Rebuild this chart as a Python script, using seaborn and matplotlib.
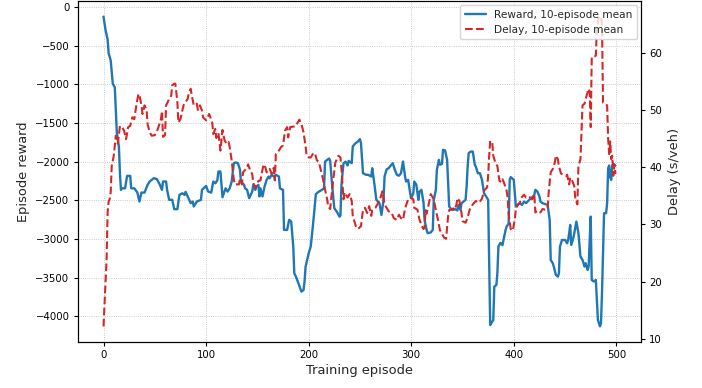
import matplotlib
matplotlib.use("Agg")
import matplotlib.pyplot as plt
import seaborn as sns
import pandas as pd

# Episode reward, 10-episode running mean
reward_ep = [0, 2, 4, 5, 7, 9, 11, 12, 13, 15, 16, 17, 18, 21, 23, 26, 27, 30, 33, 35,
             37, 40, 43, 45, 49, 52, 55, 57, 58, 61, 62, 64, 67, 69, 72, 74, 77, 79, 80, 82,
             85, 87, 88, 91, 95, 96, 100, 102, 105, 107, 109, 111, 112, 114, 115, 116, 119, 121, 123, 125,
             127, 129, 131, 133, 134, 137, 138, 140, 142, 145, 146, 148, 149, 151, 152, 153, 155, 157, 159, 161,
             162, 164, 166, 168, 171, 172, 175, 176, 179, 181, 183, 185, 186, 188, 191, 193, 195, 196, 197, 200,
             202, 203, 205, 207, 210, 213, 215, 216, 218, 220, 221, 222, 223, 225, 228, 230, 231, 232, 233, 234,
             236, 238, 239, 242, 243, 245, 248, 250, 251, 253, 256, 258, 261, 262, 264, 266, 269, 271, 273, 274,
             276, 278, 280, 282, 284, 286, 288, 290, 292, 294, 295, 297, 299, 300, 302, 303, 305, 307, 308, 310,
             311, 312, 313, 315, 316, 319, 321, 322, 324, 325, 327, 328, 330, 331, 333, 335, 337, 339, 341, 343,
             345, 346, 348, 349, 351, 353, 354, 355, 356, 358, 360, 362, 363, 365, 367, 369, 371, 373, 375, 376,
             377, 378, 380, 381, 383, 384, 385, 387, 389, 390, 392, 393, 395, 396, 397, 400, 401, 402, 404, 406,
             408, 410, 412, 415, 417, 418, 420, 421, 423, 425, 426, 428, 433, 435, 436, 438, 439, 441, 443, 444,
             445, 447, 450, 452, 453, 454, 455, 456, 458, 459, 461, 463, 465, 467, 469, 470, 472, 473, 474, 475,
             476, 478, 480, 481, 482, 484, 485, 486, 487, 488, 490, 491, 492, 493, 494, 495, 496, 497, 499]
reward_val = [-125, -300, -420, -600, -690, -990, -1040, -1330, -1630, -1805, -2150, -2365, -2345, -2345, -2184, -2184, -2345, -2345, -2400, -2516,
              -2400, -2400, -2300, -2257, -2214, -2225, -2300, -2365, -2257, -2257, -2365, -2494, -2494, -2615, -2615, -2430, -2409, -2430, -2390, -2450,
              -2537, -2516, -2580, -2516, -2494, -2365, -2314, -2387, -2400, -2257, -2280, -2240, -2128, -2128, -2300, -2460, -2345, -2387, -2345, -2257,
              -2020, -2010, -2020, -2100, -2257, -2300, -2345, -2365, -2473, -2387, -2300, -2365, -2322, -2300, -2450, -2345, -2450, -2322, -2236, -2193,
              -2214, -2170, -2193, -2170, -2193, -2345, -2365, -2883, -2883, -2753, -2775, -3099, -3443, -3500, -3608, -3681, -3660, -3550, -3358, -3186,
              -3099, -2978, -2711, -2420, -2387, -2365, -2345, -2000, -1977, -1960, -1990, -2150, -2322, -2602, -2660, -2711, -2700, -2300, -2150, -2020,
              -2000, -2050, -1990, -2020, -1805, -1770, -1740, -1709, -1760, -2150, -2170, -2170, -2193, -2085, -2280, -2494, -2537, -2689, -2494, -2193,
              -2100, -2085, -2050, -2020, -2106, -2170, -2182, -2150, -1998, -2193, -2257, -2236, -2409, -2473, -2409, -2257, -2300, -2494, -2390, -2365,
              -2450, -2530, -2753, -2883, -2925, -2916, -2883, -2494, -2365, -2106, -1977, -2040, -2030, -1847, -1855, -1977, -2580, -2615, -2624, -2615,
              -2632, -2560, -2624, -2540, -2516, -2494, -2322, -2065, -1890, -1870, -1870, -2040, -2065, -2150, -2150, -2236, -2409, -2450, -2494, -3300,
              -4113, -4090, -4050, -3617, -3595, -3440, -3099, -3050, -3080, -3010, -2883, -2840, -2800, -2236, -2200, -2236, -2409, -2580, -2560, -2537,
              -2560, -2516, -2537, -2494, -2473, -2460, -2430, -2365, -2387, -2450, -2516, -2537, -2560, -2753, -3271, -3314, -3357, -3465, -3487, -3443,
              -3099, -3013, -3013, -3056, -3013, -2925, -2818, -3077, -2990, -2925, -2775, -2925, -3228, -3271, -3357, -3314, -3400, -3357, -3013, -2711,
              -3530, -3550, -3530, -3790, -4048, -4130, -4090, -3702, -3185, -2667, -2667, -2537, -2085, -2050, -2200, -2236, -2050, -2030, -2050]

# Average delay per vehicle, 10-episode running mean
delay_ep = [0, 3, 4, 5, 6, 7, 8, 10, 11, 12, 14, 16, 18, 20, 22, 24, 26, 28, 30, 32,
            34, 35, 37, 38, 40, 42, 43, 45, 47, 50, 53, 56, 57, 58, 60, 61, 64, 66, 67, 69,
            70, 72, 73, 75, 78, 80, 82, 83, 85, 86, 88, 91, 92, 94, 96, 97, 100, 103, 106, 107,
            109, 110, 112, 114, 116, 118, 120, 122, 123, 125, 127, 128, 132, 133, 135, 136, 139, 141, 143, 145,
            146, 148, 149, 151, 153, 156, 158, 159, 161, 162, 164, 166, 167, 168, 171, 173, 175, 177, 179, 180,
            182, 185, 187, 189, 191, 193, 195, 197, 198, 200, 202, 204, 206, 208, 210, 212, 214, 216, 218, 219,
            221, 222, 224, 226, 229, 231, 232, 234, 235, 238, 240, 242, 243, 246, 248, 251, 253, 255, 257, 259,
            261, 262, 265, 267, 270, 272, 274, 276, 278, 281, 283, 286, 288, 290, 292, 294, 297, 299, 302, 303,
            306, 308, 310, 312, 313, 314, 315, 317, 319, 322, 324, 326, 328, 330, 332, 334, 336, 337, 339, 341,
            342, 344, 345, 347, 349, 350, 353, 355, 357, 358, 360, 363, 366, 369, 371, 374, 375, 376, 377, 379,
            380, 382, 384, 386, 388, 389, 391, 393, 394, 395, 397, 399, 401, 402, 404, 406, 407, 410, 412, 414,
            416, 418, 420, 421, 423, 426, 428, 430, 433, 434, 436, 438, 440, 441, 443, 444, 446, 448, 451, 452,
            454, 455, 457, 459, 460, 462, 463, 465, 466, 467, 469, 471, 473, 474, 475, 476, 478, 480, 481, 483,
            485, 486, 487, 489, 491, 492, 493, 494, 495, 496, 497, 498, 499]
delay_val = [12.2, 24.0, 32.1, 34.0, 34.4, 35.6, 40.2, 42.0, 43.7, 45.5, 44.1, 47.2, 47.0, 46.4, 44.9, 47.0, 47.2, 48.7, 48.4, 50.8,
             52.8, 52.6, 50.8, 49.3, 50.8, 50.0, 47.5, 46.1, 45.5, 45.6, 46.7, 48.4, 49.8, 45.3, 45.6, 50.8, 51.9, 52.5, 54.3, 54.6,
             54.6, 51.4, 47.8, 48.4, 50.8, 51.4, 51.9, 52.8, 53.7, 52.6, 50.8, 51.1, 50.0, 50.8, 49.9, 48.7, 48.2, 49.3, 47.8, 45.8,
             46.7, 45.1, 46.0, 42.9, 46.5, 44.7, 44.1, 44.4, 43.5, 41.1, 37.9, 37.0, 37.0, 37.9, 37.0, 39.1, 39.7, 40.5, 39.4, 38.8,
             37.3, 36.4, 36.7, 37.6, 37.7, 40.5, 39.9, 39.1, 39.4, 39.7, 38.8, 39.9, 37.7, 42.3, 42.9, 43.5, 43.8, 46.4, 47.0, 45.2,
             47.0, 47.1, 47.1, 47.7, 48.3, 47.5, 46.1, 43.7, 42.0, 41.7, 41.7, 42.3, 42.5, 41.2, 40.9, 39.4, 37.9, 36.1, 34.4, 33.2,
             32.7, 34.4, 37.9, 40.8, 42.0, 41.7, 39.7, 34.4, 35.6, 34.7, 35.3, 34.1, 31.5, 29.7, 29.2, 29.7, 32.6, 32.9, 32.0, 33.2,
             31.5, 32.5, 32.9, 33.5, 34.7, 35.8, 33.5, 32.9, 32.3, 32.0, 31.1, 30.8, 31.7, 31.1, 30.8, 32.8, 34.4, 34.7, 34.4, 32.9,
             32.6, 30.9, 29.8, 29.2, 29.5, 32.5, 31.9, 33.5, 35.3, 34.4, 32.5, 30.9, 29.0, 28.4, 27.7, 27.5, 31.5, 32.5, 32.6, 32.8,
             32.5, 33.4, 34.6, 34.1, 32.0, 30.6, 30.3, 31.2, 32.6, 32.9, 33.5, 34.1, 33.8, 34.5, 35.9, 36.5, 38.5, 42.0, 44.6, 44.3,
             42.0, 40.8, 40.2, 37.6, 37.4, 37.9, 37.0, 35.9, 34.7, 31.8, 29.2, 28.9, 30.9, 32.6, 33.5, 33.8, 34.6, 35.2, 34.7, 34.9,
             34.7, 34.4, 35.3, 32.1, 32.4, 32.1, 32.7, 32.6, 32.7, 35.6, 39.1, 39.7, 40.8, 42.0, 41.4, 40.2, 38.9, 38.7, 38.5, 38.7,
             37.0, 38.2, 37.6, 36.7, 34.4, 33.5, 40.2, 41.4, 46.1, 50.8, 51.1, 52.5, 53.7, 53.1, 47.0, 59.2, 59.2, 59.5, 64.2, 66.3,
             66.3, 64.8, 51.3, 51.1, 50.8, 44.9, 42.3, 44.5, 41.4, 42.0, 38.5, 40.5, 38.8]

reward_df = pd.DataFrame({"episode": reward_ep, "reward": reward_val})
delay_df = pd.DataFrame({"episode": delay_ep, "delay": delay_val})

sns.set_style("ticks")
plt.rcParams["font.family"] = ["DejaVu Sans"]
plt.rcParams["axes.edgecolor"] = "black"
plt.rcParams["xtick.color"] = "black"
plt.rcParams["ytick.color"] = "black"
plt.rcParams["xtick.major.size"] = 3.0
plt.rcParams["ytick.major.size"] = 3.0

fig = plt.figure(figsize=(7.02, 3.88), dpi=100)
ax = fig.add_axes([0.111, 0.119, 0.802, 0.878])
ax2 = ax.twinx()

blue = "#1f77b4"
red = "#d62728"

sns.lineplot(data=reward_df, x="episode", y="reward", ax=ax, color=blue,
             linewidth=1.7, label="Reward, 10-episode mean", legend=False)
sns.lineplot(data=delay_df, x="episode", y="delay", ax=ax2, color=red,
             linewidth=1.5, linestyle="--", label="Delay, 10-episode mean", legend=False)

label_size = 9.4
tick_size = 7.3
ax.set_xlabel("Training episode", fontsize=label_size, labelpad=3)
ax.set_ylabel("Episode reward", fontsize=label_size, labelpad=4)
ax2.set_ylabel("Delay (s/veh)", fontsize=label_size, labelpad=4)
ax.set_xticks([0, 100, 200, 300, 400, 500])
ax.set_yticks(list(range(-4000, 1, 500)))
ax2.set_yticks([10, 20, 30, 40, 50, 60])
ax.tick_params(labelsize=tick_size, pad=3)
ax2.tick_params(labelsize=tick_size, pad=3)
ax.margins(x=0.05, y=0.05)
ax2.margins(y=0.05)

ax.grid(True, linestyle=":", linewidth=0.6, color="#bbbbbb")
ax.set_axisbelow(True)

h1, l1 = ax.get_legend_handles_labels()
h2, l2 = ax2.get_legend_handles_labels()
ax2.legend(h1 + h2, l1 + l2, loc="upper right", fontsize=7.6, frameon=True,
           fancybox=True, framealpha=0.8, edgecolor="#cccccc",
           borderaxespad=0.4, handlelength=2.0)

fig.savefig("out.png", dpi=100)
